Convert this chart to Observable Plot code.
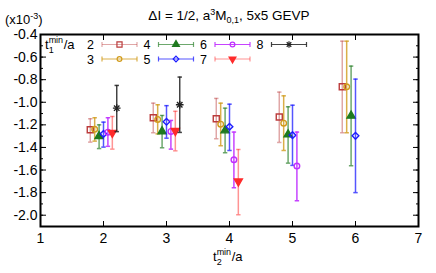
<!DOCTYPE html>
<html><head><meta charset="utf-8">
<script src="https://cdn.jsdelivr.net/npm/d3@7"></script>
<script src="https://cdn.jsdelivr.net/npm/@observablehq/plot@0.6"></script>
<style>
body{margin:0;background:#fff}
svg{font-family:"Liberation Sans",Arial,sans-serif}
</style>
</head><body><div id="chart"></div>
<script>
// ---- data: values in units of 1e-3, [center, low, high] per t2 ----
const t2Values = [2, 3, 4, 5, 6];
const t1Series = [2, 3, 4, 5, 6, 7, 8];
const s2 = [[-1.243,-1.353,-1.146],[-1.137,-1.270,-1.008],[-1.146,-1.323,-0.966],[-1.131,-1.356,-0.910],[-0.863,-1.270,-0.459]];
const s3 = [[-1.240,-1.344,-1.137],[-1.152,-1.280,-1.022],[-1.194,-1.385,-1.008],[-1.185,-1.427,-0.943],[-0.863,-1.270,-0.459]];
const s4 = [[-1.300,-1.410,-1.200],[-1.258,-1.403,-1.117],[-1.250,-1.447,-1.052],[-1.285,-1.539,-1.040],[-1.120,-1.562,-0.680]];
const s5 = [[-1.280,-1.397,-1.176],[-1.173,-1.318,-1.030],[-1.217,-1.427,-1.017],[-1.291,-1.559,-1.026],[-1.297,-1.800,-0.795]];
const s6 = [[-1.265,-1.390,-1.137],[-1.258,-1.415,-1.161],[-1.509,-1.757,-1.264],[-1.565,-1.872,-1.264],null];
const s7 = [[-1.270,-1.415,-1.126],[-1.253,-1.430,-1.080],[-1.700,-1.996,-1.418],null,null];
const s8 = [[-1.052,-1.260,-0.851],[-1.022,-1.267,-0.777],null,null,null];
const seriesValues = [s2, s3, s4, s5, s6, s7, s8];
const xTicks = [1, 2, 3, 4, 5, 6, 7];
const yTicks = [-2.0, -1.8, -1.6, -1.4, -1.2, -1.0, -0.8, -0.6, -0.4];
const yMinor = d3.range(-21, -3).map(i => i / 10);

// ---- styles ----
const colors  = ["#bb3b3b", "#d19b1c", "#1f7a1f", "#1c1cff", "#c030ff", "#ff2a2a", "#222222"];
const barOpac = [0.45, 0.8, 0.65, 0.75, 0.9, 0.5, 0.85];
const symbols = ["square", "circle", "triangle", "diamond2", "circle", "triangle", "times"];
const filled  = [false, false, true, false, false, true, false];
const rotates = [0, 0, 0, 0, 0, 180, 0];
const radii   = [3.4, 2.8, 3.0, 3.0, 2.8, 3.0, 2.6];
const dodge = 0.07, cap = 0.035;

const rows = [];
t1Series.forEach((t1, si) => {
  seriesValues[si].forEach((v, i) => {
    if (!v) return;
    rows.push({si, t1, t2: t2Values[i], x: t2Values[i] + (t1 - 5) * dodge, y: v[0], lo: v[1], hi: v[2]});
  });
});

const marks = [];
t1Series.forEach((t1, si) => {
  const d = rows.filter(r => r.si === si);
  const c = colors[si], op = barOpac[si];
  marks.push(Plot.ruleX(d, {x: "x", y1: "lo", y2: "hi", stroke: c, strokeOpacity: op, strokeWidth: 1.5}));
  marks.push(Plot.link(d, {x1: r => r.x - cap, x2: r => r.x + cap, y1: "lo", y2: "lo", stroke: c, strokeOpacity: op, strokeWidth: 1.5}));
  marks.push(Plot.link(d, {x1: r => r.x - cap, x2: r => r.x + cap, y1: "hi", y2: "hi", stroke: c, strokeOpacity: op, strokeWidth: 1.5}));
  marks.push(Plot.dot(d, {x: "x", y: "y", symbol: symbols[si], r: radii[si], rotate: rotates[si],
    fill: filled[si] ? c : "none", stroke: c, strokeWidth: 1.4}));
  if (t1 === 8) marks.push(Plot.dot(d, {x: "x", y: "y", symbol: "plus", r: 2.6, stroke: c, strokeWidth: 1.4}));
});

const svg = Plot.plot({
  width: 436, height: 273,
  marginLeft: 40, marginRight: 18, marginTop: 34, marginBottom: 47,
  style: {fontFamily: "Liberation Sans, Arial, sans-serif", fontSize: "13px", color: "#000"},
  x: {domain: [1, 7], label: null},
  y: {domain: [-2.1, -0.4], label: null},
  marks: [
    ...marks,
    Plot.axisX({anchor: "bottom", ticks: xTicks, tickSize: -5, tickPadding: 12, tickFormat: d => String(d), label: null, fontSize: 14}),
    Plot.axisX({anchor: "top", ticks: xTicks, tickSize: -5, tickFormat: () => "", label: null}),
    Plot.axisY({anchor: "left", ticks: yTicks, tickSize: -6, tickPadding: 9, tickFormat: d => d.toFixed(1), label: null, fontSize: 14}),
    Plot.axisY({anchor: "left", ticks: yMinor, tickSize: -3, tickFormat: () => "", label: null}),
    Plot.axisY({anchor: "right", ticks: yTicks, tickSize: -6, tickFormat: () => "", label: null}),
    Plot.axisY({anchor: "right", ticks: yMinor, tickSize: -3, tickFormat: () => "", label: null}),
    Plot.frame({stroke: "#000", strokeWidth: 2})
  ]
});
document.getElementById("chart").appendChild(svg);

// ---- annotations ----
const s = d3.select(svg);
const font = "Liberation Sans, Arial, sans-serif";
const title = s.append("text").attr("x", 229).attr("y", 20).attr("text-anchor", "middle")
  .attr("font-size", 13.5).attr("font-family", font);
title.append("tspan").text("ΔI = 1/2, a");
title.append("tspan").attr("font-size", 9).attr("dy", -5).text("3");
title.append("tspan").attr("dy", 5).text("M");
title.append("tspan").attr("font-size", 9).attr("dy", 3).text("0,1");
title.append("tspan").attr("dy", -3).text(", 5x5 GEVP");

const unit = s.append("text").attr("x", 5).attr("y", 24).attr("text-anchor", "start").attr("font-size", 13).attr("font-family", font);
unit.append("tspan").text("(x10");
unit.append("tspan").attr("font-size", 9).attr("dy", -5).text("-3");
unit.append("tspan").attr("dy", 5).text(")");

function tMinLabel(x0, y0, sub, size) {
  const g = s.append("g").attr("font-family", font).attr("text-anchor", "start");
  const t = g.append("text").attr("x", x0).attr("y", y0).attr("font-size", size).text("t");
  const tw = t.node().getComputedTextLength();
  const sup = g.append("text").attr("x", x0 + tw).attr("y", y0 - 6).attr("font-size", 9).text("min");
  g.append("text").attr("x", x0 + tw).attr("y", y0 + 4).attr("font-size", 9).text(sub);
  const sw = sup.node().getComputedTextLength();
  g.append("text").attr("x", x0 + tw + sw + 0.5).attr("y", y0).attr("font-size", size).text("/a");
}
tMinLabel(213, 261, "2", 13);
tMinLabel(45, 49, "1", 13);

// legend
const sym = {square: d3.symbolSquare, circle: d3.symbolCircle, triangle: d3.symbolTriangle, diamond2: d3.symbolDiamond2, times: d3.symbolTimes};
t1Series.forEach((t1, si) => {
  const col = Math.floor(si / 2), row = si % 2;
  const nx = 87 + col * 56.5, ny = 44.5 + row * 14.5;
  const c = colors[si], op = barOpac[si];
  s.append("text").attr("x", nx).attr("y", ny + 4.5).attr("text-anchor", "start").attr("font-size", 12.5).attr("font-family", font).text(String(t1));
  const x1 = nx + 15, x2 = nx + 50, xm = (x1 + x2) / 2;
  const g = s.append("g").attr("stroke", c).attr("stroke-opacity", op).attr("stroke-width", 1.2);
  g.append("line").attr("x1", x1).attr("x2", x2).attr("y1", ny).attr("y2", ny);
  g.append("line").attr("x1", x1).attr("x2", x1).attr("y1", ny - 2.5).attr("y2", ny + 2.5);
  g.append("line").attr("x1", x2).attr("x2", x2).attr("y1", ny - 2.5).attr("y2", ny + 2.5);
  const r = radii[si] * 0.85;
  s.append("path").attr("transform", `translate(${xm},${ny}) rotate(${rotates[si]})`)
    .attr("d", d3.symbol(sym[symbols[si]], Math.PI * r * r)())
    .attr("fill", filled[si] ? c : "none").attr("stroke", c).attr("stroke-width", 1.2);
  if (t1 === 8) s.append("path").attr("transform", `translate(${xm},${ny})`)
    .attr("d", d3.symbol(d3.symbolPlus, Math.PI * 2.2 * 2.2)()).attr("fill", "none").attr("stroke", c).attr("stroke-width", 1.2);
});
</script>
</body></html>
